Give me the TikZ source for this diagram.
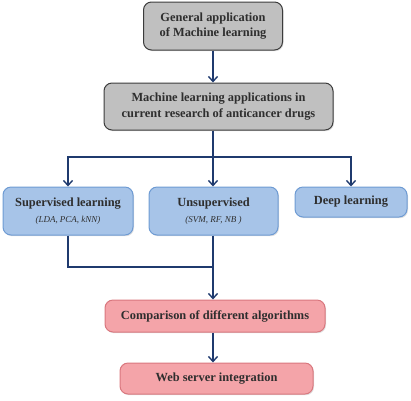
\documentclass[tikz,border=0pt]{standalone}
\usepackage{fontspec}
\setmainfont{Liberation Serif}
\usetikzlibrary{arrows.meta,shadows}

\definecolor{greyFill}{HTML}{C0C0C0}
\definecolor{greyLine}{HTML}{3C3C3C}
\definecolor{blueFill}{HTML}{A7C4E8}
\definecolor{blueLine}{HTML}{6E9BD3}
\definecolor{pinkFill}{HTML}{F4A4A9}
\definecolor{pinkLine}{HTML}{D9777E}
\definecolor{arrowBlue}{HTML}{1F3A6E}
\definecolor{textGrey}{HTML}{2E2E2E}

\newcommand{\algoList}[1]{{\fontsize{9}{11}\selectfont\mdseries\itshape #1}}

\begin{document}
\begin{tikzpicture}[x=1pt,y=-1pt,
    box/.style={rounded corners=8pt, line width=1pt, align=center,
        inner sep=2pt, text=textGrey, font=\fontsize{12.4}{15.5}\selectfont\bfseries,
        drop shadow={opacity=.25, shadow xshift=1pt, shadow yshift=-1.2pt}},
    greybox/.style={box, fill=greyFill, draw=greyLine},
    bluebox/.style={box, fill=blueFill, draw=blueLine},
    pinkbox/.style={box, fill=pinkFill, draw=pinkLine},
    link/.style={draw=arrowBlue, line width=1.4pt},
    arrow/.style={link, -{Straight Barb[length=5pt,width=9pt,line width=1.4pt]}},
]

    \useasboundingbox (0,0) rectangle (411,400);

    % top two boxes
    \node[greybox, minimum width=139pt, minimum height=48pt] (general) at (213,26)
        {General application\\of Machine learning};
    \node[greybox, minimum width=229pt, minimum height=47pt] (mlapp) at (218.5,106.5)
        {Machine learning applications in\\current research of anticancer drugs};

    % the three kinds of learning
    \node[bluebox, minimum width=130pt, minimum height=48pt] (sup) at (68,211)
        {Supervised learning\\[1pt]\algoList{(LDA, PCA, kNN)}};
    \node[bluebox, minimum width=129pt, minimum height=48pt] (uns) at (213.5,211)
        {Unsupervised\\[1pt]\algoList{(SVM, RF, NB )}};
    \node[bluebox, minimum width=112pt, minimum height=30pt] (deep) at (351,202)
        {Deep learning};

    % bottom boxes
    \node[pinkbox, minimum width=220pt, minimum height=32pt] (compare) at (215,316)
        {Comparison of different algorithms};
    \node[pinkbox, minimum width=193pt, minimum height=31pt] (web) at (216.5,378.5)
        {Web server integration};

    \coordinate (split) at (213,157);
    \coordinate (merge) at (213,267);

    \draw[arrow] (general.south -| split) -- (mlapp.north -| split);
    \draw[link] (mlapp.south -| split) -- (split);
    \draw[arrow] (split) -| (sup.north);
    \draw[arrow] (split) -- (uns.north -| split);
    \draw[arrow] (split) -| (deep.north);
    \draw[link] (sup.south) |- (merge);
    \draw[arrow] (uns.south -| merge) -- (compare.north -| merge);
    \draw[arrow] (compare.south -| merge) -- (web.north -| merge);

\end{tikzpicture}
\end{document}
